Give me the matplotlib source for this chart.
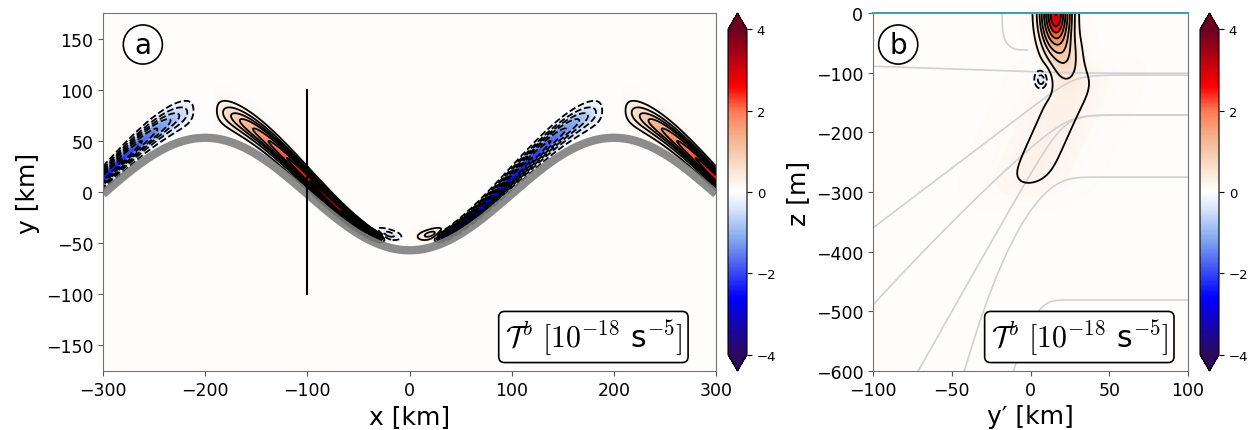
import numpy as np
import matplotlib
matplotlib.use('Agg')
import matplotlib.pyplot as plt
from matplotlib.colors import LinearSegmentedColormap

plt.rcParams['mathtext.fontset'] = 'cm'
plt.rcParams['font.family'] = ['DejaVu Sans']

# ---- data ----
# colour map nodes (value, colour)
cmap_vals = [-4.0, -2.6, -1.2, -0.4, 0.0, 0.5, 1.3, 2.0, 2.6, 4.0]
cmap_cols = ['#2b0a5c', '#0000ff', '#7fa4ee', '#d9e6fb', '#ffffff',
             '#fbe6d5', '#f4b690', '#ff7a55', '#ff0000', '#6b0021']
levels_pos = [0.15, 0.4, 0.7, 1.0, 1.4, 1.8, 2.2, 2.6, 3.0]
levels_neg = [-l for l in levels_pos[::-1]]
background = 0.06

# panel a: topographic band and the lobes that hug it
band_amp = 55.0          # km
band_wavelength = 400.0  # km
lobe_x_start = -192.0    # broad end of the lobe (phase coord)
lobe_x_end = -38.0       # narrow end near the trough
lobe_rise = 90.0
lobe_amp = 4.0
lobe_n_far = 26.0        # distance above band at broad end
lobe_n_near = 5.0
lobe_w_far = 12.0
lobe_w_near = 3.5
trough_blob_x = -20.0
trough_blob_n = 11.0
trough_blob_amp = -0.5
section_x = -100.0
section_y = [-100.0, 100.0]

# panel b: vertical section
core_pos = (16.0, 0.0)       # y' km, z m
core_size = (8.5, 55.0)
core_amp = 3.0
skirt_pos = (23.0, -75.0)
skirt_size = (9.0, 40.0)
skirt_amp = 0.5
tail_top = (30.0, -100.0)
tail_bottom = (-3.0, -295.0)
tail_amp = 0.2
tail_width = 22.0
neg_pos = (7.0, -112.0)
neg_size = (5.0, 19.0)
neg_amp = -0.45

# grey isopycnals: right plateau depth, bend position, slope, power, smoothing
iso_z_right = [-101, -104, -171, -171, -275, -481]
iso_y_bend = [30, 28, 28, 22, 30, 15]
iso_slope = [-0.09, 2.0, 1.2, 4.2, 0.0627, 0.18]
iso_power = [1.0, 1.0, 1.15, 1.02, 2.0, 2.0]
iso_smooth = [10, 6, 6, 6, 6, 4]

# ---- colour map ----
cmap = LinearSegmentedColormap.from_list(
    'tb', [((v + 4) / 8, c) for v, c in zip(cmap_vals, cmap_cols)])
cmap.set_under(cmap_cols[0])
cmap.set_over(cmap_cols[-1])

fig = plt.figure(figsize=(12.55, 4.31), dpi=100)
W, H = 1255.0, 431.0
ax1 = fig.add_axes([103 / W, 59 / H, 613 / W, 358 / H])
cax1 = fig.add_axes([728 / W, 59 / H, 19 / W, 358 / H])
ax2 = fig.add_axes([873 / W, 59 / H, 315 / W, 358 / H])
cax2 = fig.add_axes([1200 / W, 59 / H, 19 / W, 358 / H])

# ---- panel a ----
x = np.linspace(-300, 300, 1201)
y = np.linspace(-175, 175, 701)
X, Y = np.meshgrid(x, y)
yb = -band_amp * np.cos(2 * np.pi * X / band_wavelength)
n = Y - yb
xp = ((X + band_wavelength / 2) % band_wavelength) - band_wavelength / 2


def lobe(xs):
    u = np.clip((xs - lobe_x_start) / (lobe_x_end - lobe_x_start), 0, 1)
    amp = lobe_amp * (1 - np.exp(-np.clip(xs - lobe_x_start, 0, None) / lobe_rise))
    amp = amp * np.exp(-(np.clip(xs - lobe_x_end, 0, None) / 8.0) ** 2)
    n0 = lobe_n_far + (lobe_n_near - lobe_n_far) * u
    w = lobe_w_far + (lobe_w_near - lobe_w_far) * u
    return amp * np.exp(-((n - n0) / w) ** 2)


def blob(xs):
    return trough_blob_amp * np.exp(-((xs - trough_blob_x) / 11.0) ** 2
                                    - ((n - trough_blob_n) / 4.5) ** 2)


Fa = lobe(xp) - lobe(-xp) + blob(xp) - blob(-xp)

ax1.pcolormesh(x, y, Fa + background, cmap=cmap, vmin=-4, vmax=4,
               shading='gouraud', rasterized=True)
ax1.contour(X, Y, Fa, levels=levels_pos, colors='k', linewidths=1.3,
            linestyles='solid')
ax1.contour(X, Y, Fa, levels=levels_neg, colors='k', linewidths=1.3,
            linestyles='dashed')
ax1.plot(x, -band_amp * np.cos(2 * np.pi * x / band_wavelength) - 2,
         color='0.5', lw=6, solid_capstyle='butt', alpha=0.9)
ax1.plot([section_x, section_x], section_y, color='k', lw=1.5)
ax1.set_xlim(-300, 300)
ax1.set_ylim(-175, 175)
ax1.set_xticks(np.arange(-300, 301, 100))
ax1.set_yticks(np.arange(-150, 151, 50))
ax1.set_xlabel('x [km]', fontsize=18)
ax1.set_ylabel('y [km]', fontsize=18)

# ---- panel b ----
yq = np.linspace(-100, 100, 401)
zq = np.linspace(-600, 0, 601)
YQ, ZQ = np.meshgrid(yq, zq)


def gauss(pos, size, amp):
    return amp * np.exp(-((YQ - pos[0]) / size[0]) ** 2
                        - ((ZQ - pos[1]) / size[1]) ** 2)


tail_line = tail_top[0] + (ZQ - tail_top[1]) * (
    (tail_top[0] - tail_bottom[0]) / (tail_top[1] - tail_bottom[1]))
tail_mid = 0.5 * (tail_top[1] + tail_bottom[1])
tail_half = 0.5 * (tail_top[1] - tail_bottom[1])
tail = tail_amp * np.exp(-((YQ - tail_line) / tail_width) ** 2
                         - ((ZQ - tail_mid) / (tail_half * 1.1)) ** 6)
Fb = (gauss(core_pos, core_size, core_amp) + gauss(skirt_pos, skirt_size, skirt_amp)
      + tail + gauss(neg_pos, neg_size, neg_amp))

ax2.pcolormesh(yq, zq, Fb + background, cmap=cmap, vmin=-4, vmax=4,
               shading='gouraud', rasterized=True)
for zr, yc, s, p, L in zip(iso_z_right, iso_y_bend, iso_slope, iso_power, iso_smooth):
    d = L * np.log1p(np.exp((yc - yq) / L))
    ax2.plot(yq, zr - s * d ** p, color='0.82', lw=1.2, zorder=1.5)
# small hook of the upper isopycnal near the surface
th = np.linspace(np.pi, 1.5 * np.pi, 60)
ax2.plot(-2 + 16 * np.sign(np.cos(th)) * np.abs(np.cos(th)) ** 0.6,
         62 * np.sign(np.sin(th)) * np.abs(np.sin(th)) ** 0.6,
         color='0.82', lw=1.2, zorder=1.5)
ax2.contour(YQ, ZQ, Fb, levels=levels_pos, colors='k', linewidths=1.3,
            linestyles='solid', zorder=2)
ax2.contour(YQ, ZQ, Fb, levels=[-0.3, -0.15], colors='k', linewidths=1.3,
            linestyles='dashed', zorder=2)
ax2.set_xlim(-100, 100)
ax2.set_ylim(-600, 0)
ax2.set_xticks(np.arange(-100, 101, 50))
ax2.set_yticks(np.arange(-600, 1, 100))
ax2.set_xlabel('y′ [km]', fontsize=18)
ax2.set_ylabel('z [m]', fontsize=18)

label = r'$\mathcal{T}^b\ [10^{-18}$ s$^{-5}]$'
for ax, lab, cx, bx in [(ax1, 'a', 0.065, 0.80), (ax2, 'b', 0.08, 0.655)]:
    for side in ['left', 'bottom', 'right', 'top']:
        ax.spines[side].set_color('0.45')
    ax.tick_params(labelsize=12.5, color='0.35')
    ax.text(cx, 0.912, lab, transform=ax.transAxes, fontsize=20,
            ha='center', va='center',
            bbox=dict(boxstyle='circle,pad=0.2', fc='white', ec='k', lw=1.2))
    ax.text(bx, 0.095, label, transform=ax.transAxes, fontsize=21.5,
            ha='center', va='center',
            bbox=dict(boxstyle='round,pad=0.2', fc='white', ec='k', lw=1.2))
ax2.spines['top'].set_color('#3fa0a8')
ax2.spines['top'].set_linewidth(1.5)

for cax in [cax1, cax2]:
    sm = plt.cm.ScalarMappable(cmap=cmap, norm=plt.Normalize(-4, 4))
    cb = fig.colorbar(sm, cax=cax, extend='both', ticks=[-4, -2, 0, 2, 4])
    cb.ax.tick_params(labelsize=9.5)

fig.savefig('out.png', dpi=100)
